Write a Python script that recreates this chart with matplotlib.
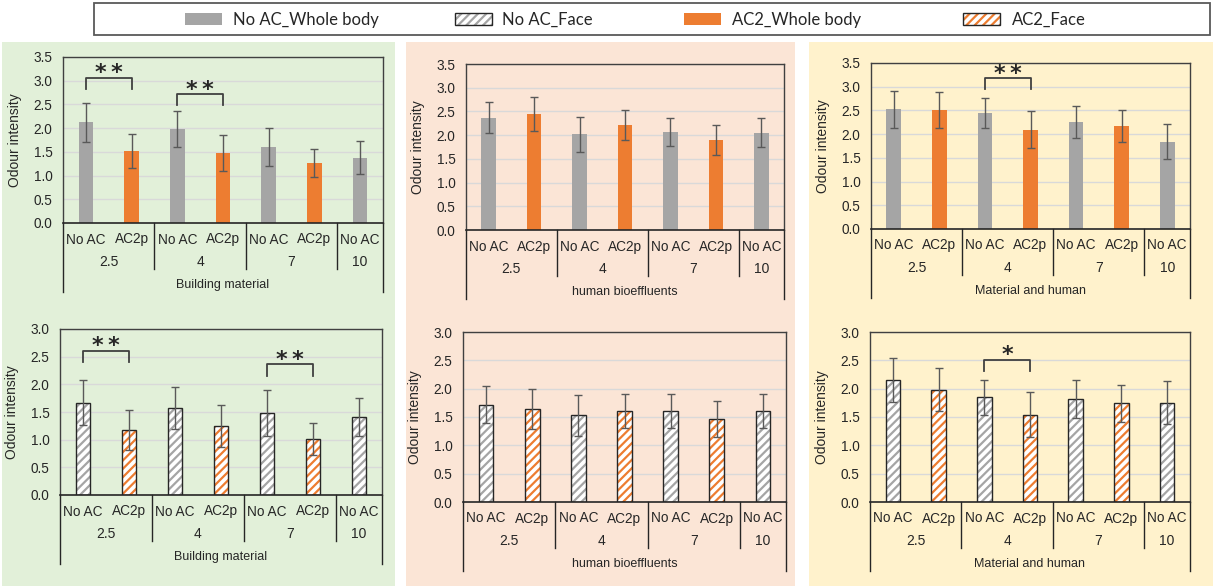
import matplotlib
matplotlib.use('Agg')
import matplotlib.pyplot as plt
from matplotlib.patches import Rectangle
from matplotlib.lines import Line2D
import matplotlib.transforms as mtransforms

plt.rcParams['font.family'] = ['Liberation Sans', 'DejaVu Sans']
plt.rcParams['hatch.linewidth'] = 1.6

# ---------------- data ----------------
categories = ["No AC", "AC2p", "No AC", "AC2p", "No AC", "AC2p", "No AC"]
is_ac2 = [False, True, False, True, False, True, False]
groups = ["2.5", "4", "7", "10"]
group_sizes = [2, 2, 2, 1]
source_labels = ["Building material", "human bioeffluents", "Material and human"]

bm_body = [2.12, 1.52, 1.99, 1.48, 1.60, 1.27, 1.38]
bm_body_err = [0.41, 0.35, 0.38, 0.38, 0.40, 0.29, 0.34]
hb_body = [2.37, 2.44, 2.02, 2.21, 2.07, 1.90, 2.05]
hb_body_err = [0.33, 0.36, 0.37, 0.31, 0.30, 0.31, 0.31]
mh_body = [2.52, 2.51, 2.45, 2.09, 2.26, 2.17, 1.84]
mh_body_err = [0.39, 0.38, 0.31, 0.39, 0.34, 0.33, 0.37]

bm_face = [1.67, 1.17, 1.58, 1.24, 1.48, 1.02, 1.41]
bm_face_err = [0.41, 0.36, 0.38, 0.38, 0.41, 0.29, 0.34]
hb_face = [1.72, 1.64, 1.53, 1.61, 1.61, 1.47, 1.61]
hb_face_err = [0.32, 0.36, 0.36, 0.30, 0.30, 0.32, 0.30]
mh_face = [2.16, 1.98, 1.85, 1.54, 1.82, 1.74, 1.75]
mh_face_err = [0.39, 0.38, 0.31, 0.40, 0.34, 0.33, 0.38]

# significance brackets: (left slot, right slot, bracket top, leg bottom, label)
sig_bm_body = [(0, 1, 3.06, 2.82, "**"), (2, 3, 2.72, 2.48, "**")]
sig_hb_body = []
sig_mh_body = [(2, 3, 3.18, 2.95, "**")]
sig_bm_face = [(0, 1, 2.61, 2.40, "**"), (4, 5, 2.36, 2.15, "**")]
sig_hb_face = []
sig_mh_face = [(2, 3, 2.51, 2.32, "*")]

legend_labels = ["No AC_Whole body", "No AC_Face", "AC2_Whole body", "AC2_Face"]

# ---------------- style ----------------
GRAY = '#A5A5A5'
ORANGE = '#ED7D31'
TXT = '#262626'
W, H = 1216, 586
fig = plt.figure(figsize=(W / 100, H / 100), dpi=100)


def fx(x):
    return x / W


def fy(y):
    return 1 - y / H


# panel backgrounds
for (x0, x1), col in zip([(2, 395), (406, 795), (809, 1213)],
                         ['#E2F0D9', '#FBE5D6', '#FFF2CC']):
    fig.patches.append(Rectangle((fx(x0), fy(586)), fx(x1 - x0), (586 - 42) / H,
                                 transform=fig.transFigure, facecolor=col,
                                 edgecolor='none', zorder=-10))

# legend
fig.patches.append(Rectangle((fx(94), fy(35)), fx(1210 - 94), 32 / H,
                             transform=fig.transFigure, facecolor='white',
                             edgecolor='#595959', lw=1.3, zorder=1))
sw_x = [185, 455, 684, 963]
tx_x = [233, 502, 732, 1012]
sw_style = [(GRAY, False), (GRAY, True), (ORANGE, False), (ORANGE, True)]
for lab, sx, tx, (c, hatched) in zip(legend_labels, sw_x, tx_x, sw_style):
    if hatched:
        fig.patches.append(Rectangle((fx(sx), fy(25)), fx(37), 12 / H, transform=fig.transFigure,
                                     facecolor='white', edgecolor=c, hatch='////', lw=0, zorder=2))
        fig.patches.append(Rectangle((fx(sx), fy(25)), fx(37), 12 / H, transform=fig.transFigure,
                                     fill=False, edgecolor='#262626', lw=1, zorder=3))
    else:
        fig.patches.append(Rectangle((fx(sx), fy(25)), fx(37), 12 / H, transform=fig.transFigure,
                                     facecolor=c, edgecolor='none', zorder=2))
    fig.text(fx(tx), fy(19.5), lab, ha='left', va='center', fontsize=12,
             family=['Lato', 'DejaVu Sans'], color=TXT, zorder=4)

# axes positions in pixels (left, top, right, bottom)
boxes = {
    (0, 0): (63, 57, 383, 223), (0, 1): (466, 64, 784, 230), (0, 2): (871, 63, 1190, 229),
    (1, 0): (60, 329, 382, 495), (1, 1): (463, 332, 786, 502), (1, 2): (870, 332, 1190, 502),
}

panels = {
    (0, 0): (bm_body, bm_body_err, sig_bm_body),
    (0, 1): (hb_body, hb_body_err, sig_hb_body),
    (0, 2): (mh_body, mh_body_err, sig_mh_body),
    (1, 0): (bm_face, bm_face_err, sig_bm_face),
    (1, 1): (hb_face, hb_face_err, sig_hb_face),
    (1, 2): (mh_face, mh_face_err, sig_mh_face),
}

x = list(range(len(categories)))
bw = 0.32

for (r, c), (vals, errs, sigs) in panels.items():
    l, t, rr, b = boxes[(r, c)]
    ax = fig.add_axes([fx(l), fy(b), fx(rr - l), (b - t) / H])
    ax.patch.set_visible(False)
    ymax = 3.5 if r == 0 else 3.0
    ax.set_xlim(-0.5, len(x) - 0.5)
    ax.set_ylim(0, ymax)
    ax.set_yticks([i * 0.5 for i in range(int(ymax / 0.5) + 1)])
    ax.set_yticklabels([f"{i * 0.5:.1f}" for i in range(int(ymax / 0.5) + 1)])
    ax.tick_params(axis='y', length=0, pad=7.5, labelsize=9.8, labelcolor=TXT)
    ax.set_xticks([])
    ax.yaxis.grid(True, color='#D9D9D9', lw=1)
    ax.set_axisbelow(True)
    for s in ax.spines.values():
        s.set_color('#404040')
        s.set_linewidth(1.0)
    ax.spines['bottom'].set_color(TXT)
    ax.spines['bottom'].set_linewidth(1.2)
    ax.set_ylabel("Odour intensity", fontsize=10, color=TXT)
    ax.yaxis.set_label_coords(-41 / (rr - l), 0.5)

    cols = [ORANGE if a else GRAY for a in is_ac2]
    if r == 0:
        ax.bar(x, vals, bw, color=cols, edgecolor='none', zorder=2)
    else:
        for xi, v, cc in zip(x, vals, cols):
            ax.bar(xi, v, bw, color='white', edgecolor=cc, hatch='////', lw=0, zorder=2)
        ax.bar(x, vals, bw, fill=False, edgecolor='#262626', lw=1, zorder=3)
    ax.errorbar(x, vals, yerr=errs, fmt='none', ecolor='#595959', elinewidth=1,
                capsize=3, capthick=1, zorder=4)

    # significance brackets
    for a, bb, top, leg, lab in sigs:
        ax.plot([a, a, bb, bb], [leg, top, top, leg], color='#404040', lw=1.3,
                zorder=5, clip_on=False)
        ax.annotate("\u2009".join(lab), xy=((a + bb) / 2, top), xytext=(0, -4),
                    textcoords='offset points', ha='center', va='bottom', fontsize=16,
                    fontweight='bold', family=['DejaVu Sans'], color=TXT)

    # category axis labels
    hpx = b - t
    tr = mtransforms.blended_transform_factory(ax.transData, ax.transAxes)
    for xi, lab in zip(x, categories):
        ax.text(xi, -16.5 / hpx, lab, transform=tr, ha='center', va='center',
                fontsize=9.8, color=TXT)
    start = 0
    for g, n in zip(groups, group_sizes):
        ax.text(start + (n - 1) / 2, -39 / hpx, g, transform=tr, ha='center', va='center',
                fontsize=10, color=TXT)
        if start > 0:
            ax.add_line(Line2D([start - 0.5, start - 0.5], [0, -46 / hpx], transform=tr,
                               color=TXT, lw=1, clip_on=False))
        start += n
    for xe in (-0.5, len(x) - 0.5):
        ax.add_line(Line2D([xe, xe], [0, -69 / hpx], transform=tr,
                           color=TXT, lw=1, clip_on=False))
    ax.text((len(x) - 1) / 2, -62 / hpx, source_labels[c], transform=tr, ha='center',
            va='center', fontsize=9, color=TXT)

fig.savefig('out.png', dpi=100)
